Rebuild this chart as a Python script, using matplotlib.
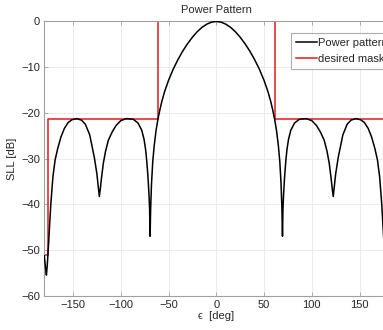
import numpy as np
import matplotlib
matplotlib.use('Agg')
import matplotlib.pyplot as plt

plt.rcParams['font.family'] = ['Liberation Sans', 'DejaVu Sans']

# power pattern (deg, dB)
angle_deg = [
    -180, -178.7, -177.8, -176.8, -175.5, -174.3, -173.2, -171, -168.7, -166,
    -162.6, -159, -155, -151, -146, -141, -137, -132.5, -127.6, -125,
    -123.3, -122.4, -121.5, -120, -118.2, -116, -113, -109, -105, -100,
    -94, -87, -82, -78, -75.6, -74, -72.8, -71.5, -70.4, -69.8,
    -69.3, -68.7, -67.8, -66.5, -65, -63, -61, -59, -57, -54,
    -50, -45, -40, -35, -30, -25, -20, -15, -10, -5,
    0,
    5, 10, 15, 20, 25, 30, 35, 40, 45, 50,
    54, 57, 59, 61, 63, 65, 66.5, 67.8, 68.7, 69.3,
    69.8, 70.4, 71.5, 72.8, 74, 75.6, 78, 82, 87, 94,
    100, 105, 109, 113, 116, 118.2, 120, 121.5, 122.4, 123.3,
    125, 127.6, 132.5, 137, 141, 146, 151, 155, 159, 162.6,
    166, 168.7, 171, 173.2, 174.3, 175.5, 176.8, 177.8, 178.7, 180,
]
power_db = [
    -51.3, -54.0, -55.5, -53.0, -48.5, -44.0, -40.0, -34.0, -30.3, -27.8,
    -25.3, -23.4, -22.1, -21.5, -21.25, -21.6, -22.5, -24.8, -29.8, -33.3,
    -36.6, -38.3, -36.8, -34.0, -31.0, -28.5, -26.0, -24.2, -22.8, -21.7,
    -21.25, -21.4, -22.2, -23.8, -25.8, -28.0, -30.5, -34.0, -38.0, -41.0,
    -47.0, -41.0, -35.5, -30.7, -27.2, -23.8, -21.3, -19.3, -17.5, -15.3,
    -12.9, -10.4, -8.3, -6.45, -4.85, -3.45, -2.25, -1.3, -0.6, -0.15,
    0.0,
    -0.15, -0.6, -1.3, -2.25, -3.45, -4.85, -6.45, -8.3, -10.4, -12.9,
    -15.3, -17.5, -19.3, -21.3, -23.8, -27.2, -30.7, -35.5, -41.0, -47.0,
    -41.0, -38.0, -34.0, -30.5, -28.0, -25.8, -23.8, -22.2, -21.4, -21.25,
    -21.7, -22.8, -24.2, -26.0, -28.5, -31.0, -34.0, -36.8, -38.3, -36.6,
    -33.3, -29.8, -24.8, -22.5, -21.6, -21.25, -21.5, -22.1, -23.4, -25.3,
    -27.8, -30.3, -34.0, -40.0, -44.0, -48.5, -53.0, -55.5, -54.0, -51.3,
]

# desired mask (step outline)
mask_deg = [-180, -176, -176, -61, -61, 61, 61, 176, 176, 180]
mask_db = [-51, -51, -21.3, -21.3, 0, 0, -21.3, -21.3, -51, -51]

xticks = [-150, -100, -50, 0, 50, 100, 150]
yticks = [-60, -50, -40, -30, -20, -10, 0]

txt = '#262626'
edge = '#a0a0a0'

fig = plt.figure(figsize=(3.83, 3.30), dpi=100)
ax = fig.add_axes([0.1157, 0.104, 0.898, 0.831])

ax.plot(angle_deg, power_db, color='black', lw=1.1, label='Power pattern', zorder=3)
ax.plot(mask_deg, mask_db, color='#e41a1a', lw=1.1, label='desired mask', zorder=2)

ax.set_xlim(-180, 180)
ax.set_ylim(-60, 0)
ax.set_xticks(xticks)
ax.set_yticks(yticks)
ax.grid(True, color='#e8e8e8', lw=0.6)
ax.set_axisbelow(True)

for s in ax.spines.values():
    s.set_color(edge)
    s.set_linewidth(0.8)
ax.tick_params(direction='in', length=3, width=0.6, color=edge,
               labelsize=8, labelcolor=txt, top=True, pad=3)

ax.set_title('Power Pattern', fontsize=8, color=txt, pad=6)
ax.set_xlabel('ϵ  [deg]', fontsize=8, color=txt, labelpad=1)
ax.set_ylabel('SLL [dB]', fontsize=8, color=txt, labelpad=3)

# legend runs past the right edge, as in the original crop
leg = ax.legend(loc='upper left', bbox_to_anchor=(0.716, 0.958), fontsize=8,
                frameon=True, fancybox=False, borderpad=0.45, labelspacing=0.5,
                handlelength=1.9, handletextpad=0.1, borderaxespad=0)
leg.get_frame().set_edgecolor('#9a9a9a')
leg.get_frame().set_linewidth(0.8)
for t in leg.get_texts():
    t.set_color(txt)

fig.savefig('out.png', dpi=100)
